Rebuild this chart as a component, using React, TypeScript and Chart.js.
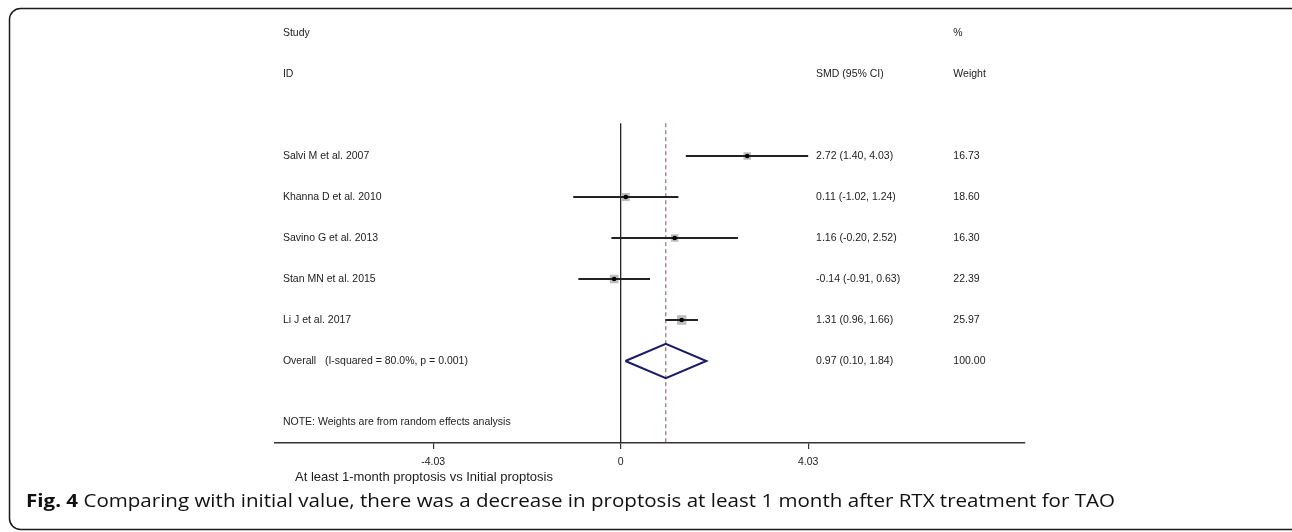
import React, { useEffect, useRef } from "react";
import { Chart, registerables } from "chart.js";

Chart.register(...registerables);

// ---------- data ----------
const STUDIES = [
  "Salvi M et al. 2007",
  "Khanna D et al. 2010",
  "Savino G et al. 2013",
  "Stan MN et al. 2015",
  "Li J et al. 2017",
];
const SMD = [2.72, 0.11, 1.16, -0.14, 1.31];
const CI_LOW = [1.4, -1.02, -0.2, -0.91, 0.96];
const CI_HIGH = [4.03, 1.24, 2.52, 0.63, 1.66];
const WEIGHTS = [16.73, 18.6, 16.3, 22.39, 25.97];

const OVERALL_LABEL = "Overall   (I-squared = 80.0%, p = 0.001)";
const OVERALL_SMD = 0.97;
const OVERALL_LOW = 0.1;
const OVERALL_HIGH = 1.84;
const OVERALL_WEIGHT = 100.0;

const X_TICKS = [-4.03, 0, 4.03];
const X_TICK_LABELS = ["-4.03", "0", "4.03"];

const HEADER_TOP = ["Study", "", "%"];
const HEADER_BOTTOM = ["ID", "SMD (95% CI)", "Weight"];
const NOTE = "NOTE: Weights are from random effects analysis";
const X_TITLE = "At least 1-month proptosis vs Initial proptosis";
const CAPTION_BOLD = "Fig. 4";
const CAPTION_TEXT =
  " Comparing with initial value, there was a decrease in proptosis at least 1 month after RTX treatment for TAO";

// ---------- layout / style ----------
const W = 1292;
const H = 532;
const X_MIN = -7.43;
const X_MAX = 8.69;
const Y_MIN = -2.5;
const Y_MAX = 8;
const COL_LABEL_X = -7.26;
const COL_CI_X = 4.2;
const COL_WEIGHT_X = 7.15;
const ROW_HEAD1 = -2;
const ROW_HEAD2 = -1;
const ROW_NOTE = 7.5;
const ROW_OVERALL = STUDIES.length + 1;
const REF_TOP = 0.2;
const DIAMOND_HALF = 0.42;
const TEXT_FONT = '"Liberation Sans", Arial, sans-serif';
const TEXT_COLOR = "#1c1c1c";
const CAPTION_LEFT = 26;
const CAPTION_RIGHT = 1115;

const fmt = (v: number) => v.toFixed(2);

export default function App() {
  const ref = useRef<HTMLCanvasElement | null>(null);

  useEffect(() => {
    if (!ref.current) return;
    const rows = STUDIES.map((_, i) => i + 1);

    const ciSets = STUDIES.map((_, i) => ({
      type: "scatter" as const,
      data: [
        { x: CI_LOW[i], y: rows[i] },
        { x: CI_HIGH[i], y: rows[i] },
      ],
      showLine: true,
      borderColor: "#222",
      borderWidth: 2,
      pointRadius: 0,
      order: 2,
    }));

    const textPlugin = {
      id: "forestText",
      afterDraw(chart: any) {
        const ctx = chart.ctx as CanvasRenderingContext2D;
        const xs = chart.scales.x;
        const ys = chart.scales.y;
        const px = (v: number) => xs.getPixelForValue(v);
        const py = (v: number) => ys.getPixelForValue(v);
        ctx.save();
        ctx.fillStyle = TEXT_COLOR;
        ctx.textBaseline = "middle";
        ctx.textAlign = "left";
        ctx.font = `10.5px ${TEXT_FONT}`;
        const cols = [COL_LABEL_X, COL_CI_X, COL_WEIGHT_X];
        HEADER_TOP.forEach((t, j) => t && ctx.fillText(t, px(cols[j]), py(ROW_HEAD1)));
        HEADER_BOTTOM.forEach((t, j) => t && ctx.fillText(t, px(cols[j]), py(ROW_HEAD2)));
        STUDIES.forEach((s, i) => {
          ctx.fillText(s, px(COL_LABEL_X), py(rows[i]));
          ctx.fillText(
            `${fmt(SMD[i])} (${fmt(CI_LOW[i])}, ${fmt(CI_HIGH[i])})`,
            px(COL_CI_X),
            py(rows[i])
          );
          ctx.fillText(fmt(WEIGHTS[i]), px(COL_WEIGHT_X), py(rows[i]));
        });
        ctx.fillText(OVERALL_LABEL, px(COL_LABEL_X), py(ROW_OVERALL));
        ctx.fillText(
          `${fmt(OVERALL_SMD)} (${fmt(OVERALL_LOW)}, ${fmt(OVERALL_HIGH)})`,
          px(COL_CI_X),
          py(ROW_OVERALL)
        );
        ctx.fillText(fmt(OVERALL_WEIGHT), px(COL_WEIGHT_X), py(ROW_OVERALL));
        ctx.fillText(NOTE, px(COL_LABEL_X), py(ROW_NOTE));

        // axis title
        ctx.font = `13px ${TEXT_FONT}`;
        ctx.fillText(X_TITLE, 295, 477);

        // caption, slightly widened to the reference width
        ctx.fillStyle = "#111";
        const boldFont = `bold 18px "Open Sans", sans-serif`;
        const regFont = `18px "Open Sans", sans-serif`;
        ctx.font = boldFont;
        const bw = ctx.measureText(CAPTION_BOLD).width;
        ctx.font = regFont;
        const rw = ctx.measureText(CAPTION_TEXT).width;
        const sx = (CAPTION_RIGHT - CAPTION_LEFT) / (bw + rw);
        ctx.save();
        ctx.translate(CAPTION_LEFT, 502);
        ctx.scale(sx, 1);
        ctx.font = boldFont;
        ctx.fillText(CAPTION_BOLD, 0, 0);
        ctx.font = regFont;
        ctx.fillText(CAPTION_TEXT, bw, 0);
        ctx.restore();

        // frame
        ctx.strokeStyle = "#1a1a1a";
        ctx.lineWidth = 1.5;
        ctx.beginPath();
        (ctx as any).roundRect(9.5, 8.5, 1300, 521, 11);
        ctx.stroke();
        ctx.restore();
      },
    };

    const chart = new Chart(ref.current, {
      type: "scatter",
      data: {
        datasets: [
          // dots
          {
            data: STUDIES.map((_, i) => ({ x: SMD[i], y: rows[i] })),
            pointStyle: "circle",
            pointRadius: 2.3,
            backgroundColor: "#000",
            borderColor: "#000",
            borderWidth: 0,
            order: 1,
          },
          ...ciSets,
          // weight boxes
          {
            data: STUDIES.map((_, i) => ({ x: SMD[i], y: rows[i] })),
            pointStyle: "rect",
            pointRadius: WEIGHTS.map((w) => 1.3 * Math.sqrt(w)),
            backgroundColor: "#bdbdbd",
            borderColor: "#bdbdbd",
            borderWidth: 0,
            order: 3,
          },
          // overall diamond
          {
            data: [
              { x: OVERALL_LOW, y: ROW_OVERALL },
              { x: OVERALL_SMD, y: ROW_OVERALL - DIAMOND_HALF },
              { x: OVERALL_HIGH, y: ROW_OVERALL },
              { x: OVERALL_SMD, y: ROW_OVERALL + DIAMOND_HALF },
              { x: OVERALL_LOW, y: ROW_OVERALL },
            ],
            showLine: true,
            borderColor: "#1b1b66",
            borderWidth: 2,
            pointRadius: 0,
            fill: false,
            order: 1,
          },
          // null line
          {
            data: [
              { x: 0, y: REF_TOP },
              { x: 0, y: Y_MAX },
            ],
            showLine: true,
            borderColor: "#111",
            borderWidth: 1.2,
            pointRadius: 0,
            order: 4,
          },
          // overall effect dashed line
          {
            data: [
              { x: OVERALL_SMD, y: REF_TOP },
              { x: OVERALL_SMD, y: Y_MAX },
            ],
            showLine: true,
            borderColor: "#9b4b4b",
            borderWidth: 1,
            borderDash: [4, 3],
            pointRadius: 0,
            order: 4,
          },
        ] as any,
      },
      options: {
        responsive: false,
        maintainAspectRatio: false,
        animation: false,
        devicePixelRatio: 1,
        layout: { padding: { left: 275, right: W - 1025, top: 12.5, bottom: 0 } },
        plugins: { legend: { display: false }, tooltip: { enabled: false } },
        scales: {
          x: {
            type: "linear",
            min: X_MIN,
            max: X_MAX,
            afterBuildTicks: (scale: any) => {
              scale.ticks = X_TICKS.map((v) => ({ value: v }));
            },
            afterFit: (scale: any) => {
              scale.height = H - 443;
            },
            ticks: {
              autoSkip: false,
              maxRotation: 0,
              padding: 7,
              color: "#222",
              font: { family: TEXT_FONT, size: 10.5 },
              callback: (v: any) => {
                const k = X_TICKS.indexOf(Number(v));
                return k >= 0 ? X_TICK_LABELS[k] : "";
              },
            },
            grid: {
              drawOnChartArea: false,
              drawTicks: true,
              tickLength: 6,
              color: "#333",
              lineWidth: 1.2,
            },
            border: { display: true, color: "#333", width: 1.5 },
          },
          y: {
            type: "linear",
            display: false,
            min: Y_MIN,
            max: Y_MAX,
            reverse: true,
          },
        },
      } as any,
      plugins: [textPlugin],
    });
    return () => chart.destroy();
  }, []);

  return (
    <div style={{ position: "fixed", left: 0, top: 0, width: W, height: H, background: "#fff" }}>
      <canvas ref={ref} width={W} height={H} style={{ width: W, height: H, display: "block" }} />
    </div>
  );
}
